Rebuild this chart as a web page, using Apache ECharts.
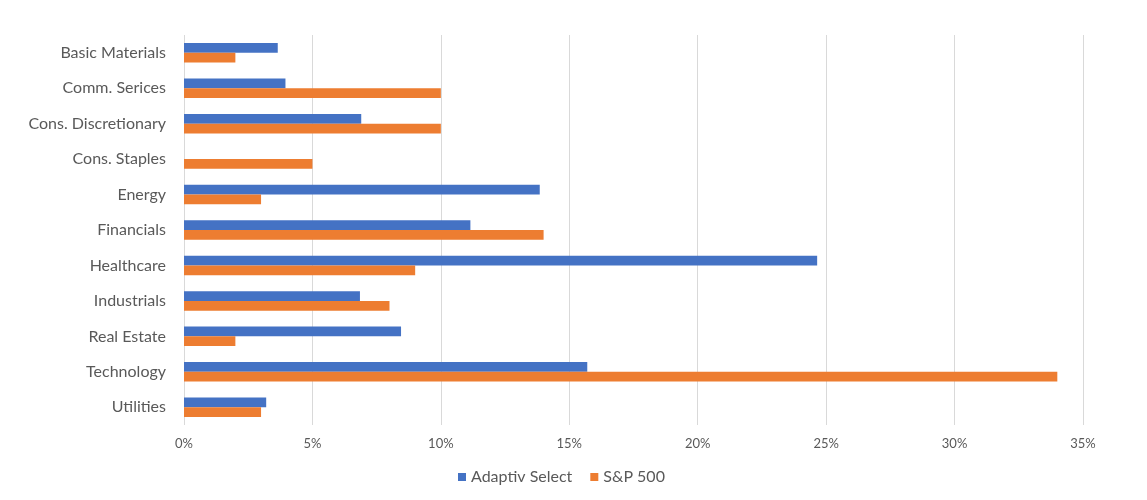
<!DOCTYPE html>
<html>
<head>
<meta charset="utf-8">
<script src="https://cdn.jsdelivr.net/npm/echarts@6/dist/echarts.min.js"></script>
<style>
html,body{margin:0;padding:0;background:#fff;}
#main{width:1147px;height:500px;}
</style>
</head>
<body>
<div id="main"></div>
<script>
// 行业名称
var sectors = ['Basic Materials', 'Comm. Serices', 'Cons. Discretionary', 'Cons. Staples', 'Energy',
	'Financials', 'Healthcare', 'Industrials', 'Real Estate', 'Technology', 'Utilities'];
// 权重 (%)
var adaptiv = [3.65, 3.95, 6.9, 0, 13.85, 11.15, 24.65, 6.85, 8.45, 15.7, 3.2];
var sp500 = [2.0, 10.0, 10.0, 5.0, 3.0, 14.0, 9.0, 8.0, 2.0, 34.0, 3.0];
var seriesNames = ['Adaptiv Select', 'S&P 500'];

var myChart = echarts.init(document.getElementById('main'));
var font = 'Lato, "Open Sans", sans-serif';
var option = {
	animation: false,
	color: ['#4472C4', '#ED7D31'],
	grid: { left: 184, right: 64, top: 35, bottom: 75 },
	legend: {
		data: seriesNames,
		bottom: 10,
		left: 453,
		icon: 'rect',
		itemWidth: 8,
		itemHeight: 8,
		itemGap: 18,
		textStyle: { color: '#595959', fontSize: 16, fontFamily: font }
	},
	xAxis: {
		type: 'value',
		min: 0,
		max: 35,
		interval: 5,
		axisLine: { show: false },
		axisTick: { show: false },
		axisLabel: { color: '#595959', fontSize: 13, fontFamily: font, margin: 12,
			formatter: function (v) { return v + '%'; } },
		splitLine: { lineStyle: { color: '#d9d9d9' } }
	},
	yAxis: {
		type: 'category',
		inverse: true,
		data: sectors,
		axisLine: { show: false },
		axisTick: { show: false },
		axisLabel: { color: '#595959', fontSize: 16, fontFamily: font, margin: 18 }
	},
	series: [
		{ name: seriesNames[0], type: 'bar', data: adaptiv, barGap: '0%', barCategoryGap: '45%' },
		{ name: seriesNames[1], type: 'bar', data: sp500, barGap: '0%', barCategoryGap: '45%' }
	]
};
myChart.setOption(option);
</script>
</body>
</html>
